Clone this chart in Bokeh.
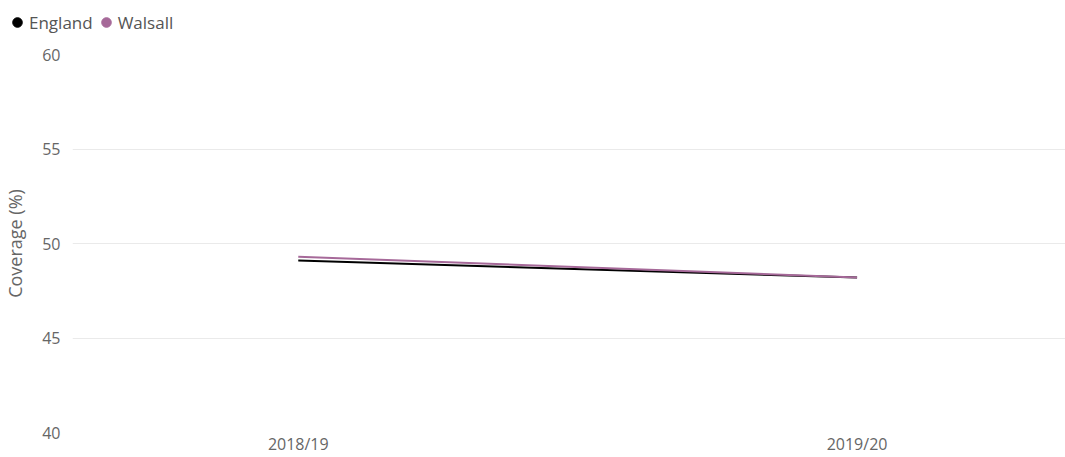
from bokeh.plotting import figure
from bokeh.models import Legend, LegendItem, FixedTicker, Range1d
from bokeh.layouts import column, row
from bokeh.embed import file_html
from bokeh.resources import INLINE

periods = ["2018/19", "2019/20"]
england = [49.1, 48.2]
walsall = [49.3, 48.2]
y_ticks = [40, 45, 50, 55, 60]
series_names = ["England", "Walsall"]
series_colors = ["#000000", "#A66999"]

xs = list(range(len(periods)))
FONT = "Open Sans"
TXT = "#666666"

# ---- legend strip ----
leg = figure(width=1065, height=40, output_backend="svg", toolbar_location=None,
             x_range=Range1d(-0.404, 1.373), y_range=Range1d(40, 60),
             x_axis_location=None, y_axis_location=None)
leg.min_border_left = 0
leg.min_border_right = 0
leg.min_border_top = 0
leg.min_border_bottom = 0
leg.outline_line_color = None
leg.grid.visible = False
r1 = leg.scatter(xs, england, size=0, fill_color=series_colors[0], line_color=series_colors[0])
r2 = leg.scatter(xs, walsall, size=0, fill_color=series_colors[1], line_color=series_colors[1])
legend = Legend(items=[LegendItem(label=series_names[0], renderers=[r1]),
                       LegendItem(label=series_names[1], renderers=[r2])],
                orientation="horizontal", location=(5, 6),
                label_text_font=FONT, label_text_font_size="17px",
                label_text_color="#555555",
                glyph_width=24, glyph_height=24, label_standoff=-3,
                spacing=1, padding=0, margin=0,
                border_line_color=None, background_fill_alpha=0)
leg.add_layout(legend)

# ---- main chart ----
p = figure(width=1065, height=417, output_backend="svg", toolbar_location=None,
           x_range=Range1d(-0.404, 1.373), y_range=Range1d(40, 60))
p.min_border_left = 8
p.min_border_right = 0
p.min_border_bottom = 0
p.min_border_top = 14
p.outline_line_color = None
p.background_fill_color = "white"
p.border_fill_color = "white"

p.xgrid.grid_line_color = None
p.ygrid.grid_line_color = "#eaeaea"
p.ygrid.grid_line_width = 1

p.yaxis.ticker = FixedTicker(ticks=y_ticks)
p.yaxis.axis_line_color = None
p.yaxis.major_tick_line_color = None
p.yaxis.minor_tick_line_color = None
p.yaxis.major_tick_out = 0
p.yaxis.major_tick_in = 0
p.yaxis.minor_tick_out = 0
p.yaxis.major_label_text_font = FONT
p.yaxis.major_label_text_font_size = "16px"
p.yaxis.major_label_text_color = TXT
p.yaxis.major_label_standoff = 12
p.yaxis.axis_label = "Coverage (%)"
p.yaxis.axis_label_text_font = FONT
p.yaxis.axis_label_text_font_size = "18px"
p.yaxis.axis_label_text_font_style = "normal"
p.yaxis.axis_label_text_color = TXT
p.yaxis.axis_label_standoff = 12

p.xaxis.ticker = FixedTicker(ticks=xs)
p.xaxis.major_label_overrides = {i: s for i, s in enumerate(periods)}
p.xaxis.axis_line_color = None
p.xaxis.major_tick_line_color = None
p.xaxis.minor_tick_line_color = None
p.xaxis.major_tick_out = 0
p.xaxis.major_tick_in = 0
p.xaxis.minor_tick_out = 0
p.xaxis.major_label_text_font = FONT
p.xaxis.major_label_text_font_size = "16px"
p.xaxis.major_label_text_color = TXT
p.xaxis.major_label_standoff = 0

p.line(xs, england, line_color=series_colors[0], line_width=2)
p.line(xs, walsall, line_color=series_colors[1], line_width=2)

layout = column(row(leg), p, spacing=0)
open("out.html", "w").write(file_html(layout, INLINE))
